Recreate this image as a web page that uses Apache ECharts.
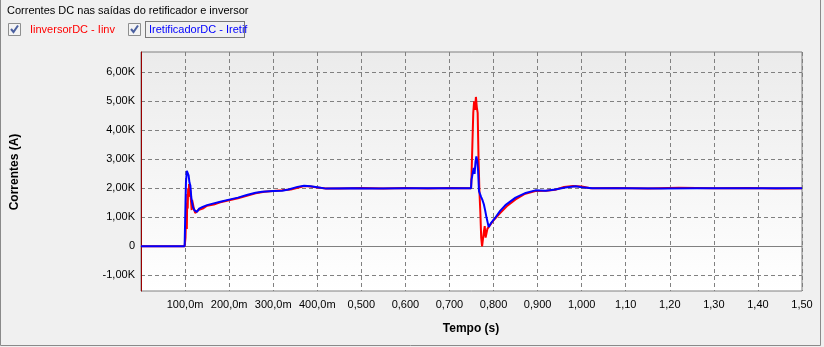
<!DOCTYPE html>
<html>
<head>
<meta charset="utf-8">
<script src="https://cdn.jsdelivr.net/npm/echarts@6/dist/echarts.min.js"></script>
<style>
  html, body { margin: 0; padding: 0; background: #f0f0f0; }
  #chart { width: 824px; height: 347px; }
</style>
</head>
<body>
<div id="chart"></div>
<script>
// tempo (s) e corrente (A) - IinversorDC
var tInv = [0, 0.099, 0.101, 0.102, 0.103, 0.104, 0.105, 0.106, 0.107, 0.108, 0.109, 0.110, 0.112, 0.113,
  0.115, 0.116, 0.118, 0.120, 0.123, 0.126, 0.130, 0.140, 0.150, 0.165, 0.180, 0.200, 0.220, 0.240, 0.260,
  0.280, 0.300, 0.320, 0.340, 0.360, 0.370, 0.385, 0.400, 0.420, 0.450, 0.500, 0.550, 0.600, 0.650, 0.700,
  0.749, 0.750, 0.752, 0.754, 0.756, 0.758, 0.760, 0.762, 0.764, 0.766, 0.768, 0.770, 0.772, 0.774, 0.776,
  0.778, 0.780, 0.782, 0.784, 0.786, 0.790, 0.800, 0.815, 0.830, 0.850, 0.870, 0.895, 0.920, 0.940, 0.960,
  0.980, 1.000, 1.020, 1.080, 1.150, 1.220, 1.300, 1.380, 1.440, 1.500];
var iInv = [0, 0, 300, 900, 1500, 600, 1800, 1300, 2000, 1700, 2150, 2200, 1900, 1650,
  1250, 1600, 1450, 1300, 1150, 1200, 1250, 1300, 1400, 1440, 1520, 1590, 1660, 1740, 1830,
  1880, 1910, 1930, 1960, 2040, 2080, 2060, 2030, 1990, 1990, 2010, 1990, 2010, 1995, 2010,
  2000, 2400, 3500, 4600, 5000, 4700, 5150, 4800, 4600, 3000, 1900, 1200, 300, 0, -20,
  500, 700, 300, 350, 600, 650, 900, 1150, 1380, 1620, 1800, 1910, 1920, 1950, 2050,
  2080, 2060, 2000, 2010, 1990, 2020, 2000, 2010, 1995, 2000];

// tempo (s) e corrente (A) - IretificadorDC
var tRet = [0, 0.099, 0.101, 0.102, 0.103, 0.104, 0.106, 0.107, 0.108, 0.110, 0.112, 0.114, 0.116, 0.118,
  0.121, 0.124, 0.127, 0.132, 0.140, 0.150, 0.165, 0.180, 0.200, 0.220, 0.240, 0.260, 0.275, 0.300, 0.320,
  0.335, 0.355, 0.370, 0.385, 0.400, 0.420, 0.480, 0.540, 0.600, 0.660, 0.720, 0.749, 0.750, 0.753, 0.755,
  0.757, 0.759, 0.761, 0.763, 0.765, 0.767, 0.769, 0.772, 0.775, 0.778, 0.781, 0.784, 0.787, 0.789, 0.795,
  0.805, 0.815, 0.827, 0.850, 0.873, 0.895, 0.918, 0.940, 0.963, 0.986, 1.000, 1.024, 1.100, 1.180, 1.260,
  1.340, 1.420, 1.500];
var iRet = [0, 0, 1500, 2200, 2400, 2600, 2550, 2600, 2450, 2200, 2100, 1700, 1500, 1350,
  1250, 1200, 1190, 1300, 1360, 1420, 1480, 1540, 1610, 1680, 1770, 1850, 1880, 1910, 1920,
  1960, 2050, 2090, 2070, 2040, 1990, 2005, 1995, 2005, 2000, 2005, 2000, 2300, 2300, 2700,
  2500, 2900, 3100, 2950, 2600, 1900, 1820, 1700, 1590, 1450, 1240, 1000, 800, 670, 820,
  1010, 1220, 1420, 1680, 1840, 1930, 1920, 1960, 2030, 2070, 2040, 2000, 2005, 1995, 2005,
  2000, 2000, 2000];

var yTicks = [-1000, 0, 1000, 2000, 3000, 4000, 5000, 6000];
var xTickLabels = ['', '100,0m', '200,0m', '300,0m', '400,0m', '0,500', '0,600', '0,700',
  '0,800', '0,900', '1,000', '1,10', '1,20', '1,30', '1,40', '1,50'];

var font = 'Liberation Sans';

function pares(t, v) {
  return t.map(function (x, i) { return [x, v[i]]; });
}

var chart = echarts.init(document.getElementById('chart'));
chart.setOption({
  animation: false,
  backgroundColor: '#f0f0f0',
  textStyle: { fontFamily: font },
  grid: {
    left: 141, right: 22, top: 52, bottom: 56,
    show: true,
    borderColor: '#808080',
    borderWidth: 1,
    backgroundColor: new echarts.graphic.LinearGradient(0, 0, 0, 1, [
      { offset: 0, color: '#ebebeb' },
      { offset: 1, color: '#ffffff' }
    ])
  },
  xAxis: {
    type: 'value',
    min: 0,
    max: 1.5,
    interval: 0.1,
    axisLine: { lineStyle: { color: '#808080', width: 1 } },
    axisTick: { show: false },
    axisLabel: {
      color: '#000', fontSize: 11, fontFamily: font, margin: 8,
      formatter: function (v) { return xTickLabels[Math.round(v * 10)] || ''; }
    },
    splitLine: { show: true, lineStyle: { color: '#808080', type: [4, 3], width: 1 } }
  },
  yAxis: {
    type: 'value',
    min: -1540,
    max: 6700,
    axisLine: { show: true, lineStyle: { color: '#990000', width: 1 } },
    axisTick: { show: false, customValues: yTicks },
    axisLabel: {
      color: '#000', fontSize: 11, fontFamily: font, margin: 6,
      customValues: yTicks,
      formatter: function (v) {
        if (v === 0) return '0';
        return (v / 1000).toFixed(2).replace('.', ',') + 'K';
      }
    },
    splitLine: { show: true, lineStyle: { color: '#808080', type: [4, 3], width: 1 } }
  },
  series: [{
    name: 'IinversorDC - Iinv',
    type: 'line',
    showSymbol: false,
    z: 2,
    lineStyle: { color: '#ff0000', width: 2 },
    itemStyle: { color: '#ff0000' },
    data: pares(tInv, iInv)
  }, {
    name: 'IretificadorDC - Iretif',
    type: 'line',
    showSymbol: false,
    z: 3,
    lineStyle: { color: '#0000ff', width: 2 },
    itemStyle: { color: '#0000ff' },
    data: pares(tRet, iRet)
  }],
  graphic: [
    // moldura
    { type: 'rect', shape: { x: 0.5, y: -2, width: 820, height: 347.5 },
      style: { fill: 'none', stroke: '#8a8a8a', lineWidth: 1 }, silent: true },
    { type: 'text', left: 7, top: 5,
      style: { text: 'Correntes DC nas saídas do retificador e inversor', fill: '#000', font: '11px ' + font } },
    // caixas de selecao
    { type: 'rect', shape: { x: 8.5, y: 23.5, width: 12, height: 12 },
      style: { fill: '#f4f4f4', stroke: '#8e8f8f', lineWidth: 1 } },
    { type: 'polyline', shape: { points: [[11, 29], [13.5, 32], [18, 25.5]] },
      style: { stroke: '#4c61a0', lineWidth: 2, fill: 'none' } },
    { type: 'text', left: 30, top: 24,
      style: { text: 'IinversorDC - Iinv', fill: '#ff0000', font: '11px ' + font } },
    { type: 'rect', shape: { x: 128.5, y: 23.5, width: 12, height: 12 },
      style: { fill: '#f4f4f4', stroke: '#8e8f8f', lineWidth: 1 } },
    { type: 'polyline', shape: { points: [[131, 29], [133.5, 32], [138, 25.5]] },
      style: { stroke: '#4c61a0', lineWidth: 2, fill: 'none' } },
    { type: 'rect', shape: { x: 145.5, y: 21.5, width: 99, height: 16 },
      style: { fill: 'none', stroke: '#000', lineWidth: 1, lineDash: [1, 1] } },
    { type: 'text', left: 149, top: 24,
      style: { text: 'IretificadorDC - Iretif', fill: '#0000ff', font: '11px ' + font } },
    // nomes dos eixos
    { type: 'text', x: 15, y: 172, rotation: Math.PI / 2,
      style: { text: 'Correntes (A)', fill: '#000', font: 'bold 12px ' + font, align: 'center', verticalAlign: 'middle' } },
    { type: 'text', x: 471, y: 329,
      style: { text: 'Tempo (s)', fill: '#000', font: 'bold 12px ' + font, align: 'center', verticalAlign: 'middle' } }
  ]
});
</script>
</body>
</html>
